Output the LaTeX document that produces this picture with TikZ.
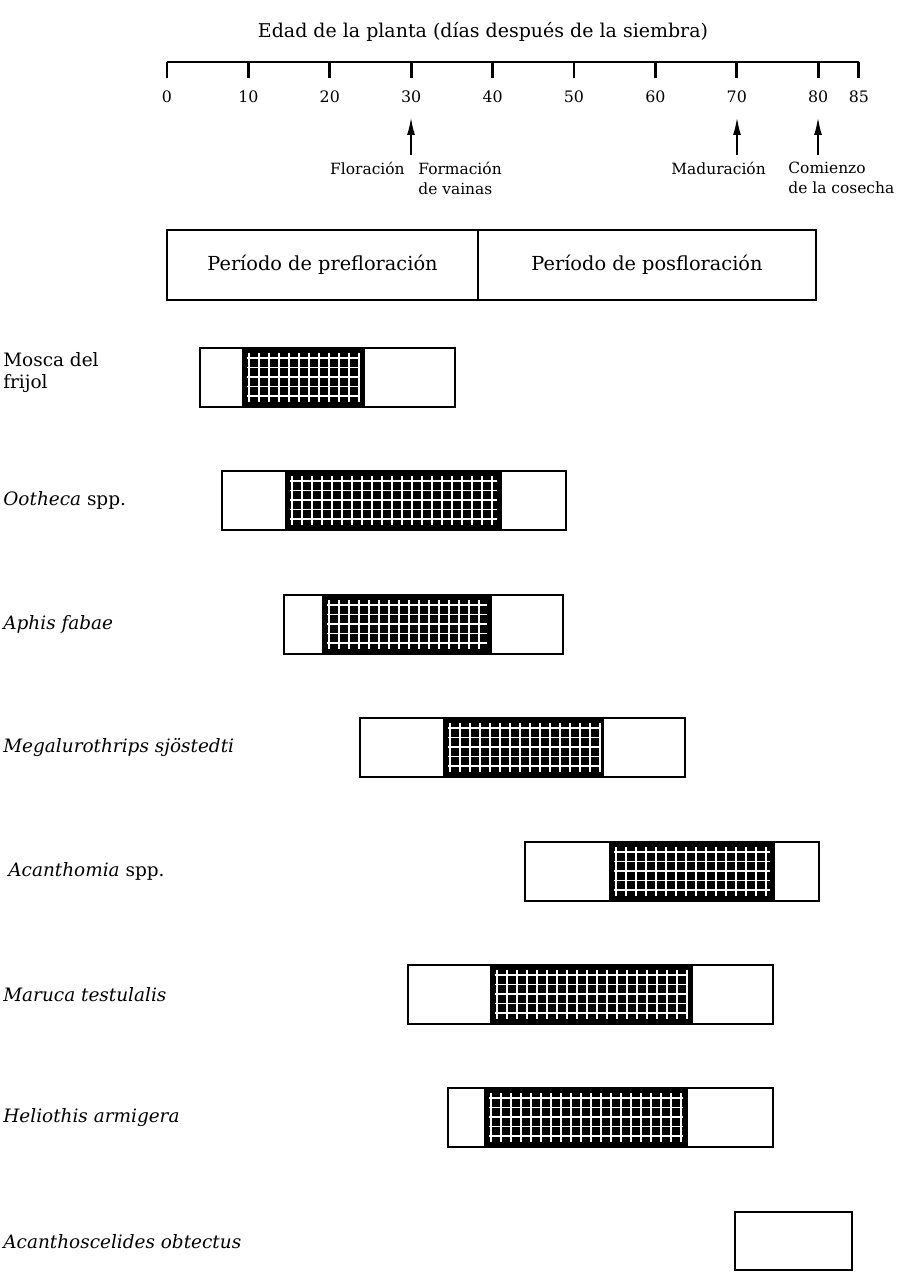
\documentclass[tikz,border=0pt]{standalone}
\usepackage{fontspec}
\setmainfont{DejaVu Serif}
\usetikzlibrary{arrows.meta}

\newcommand{\barra}[5]{%
  \fill[black] (#2,#5) rectangle (#3,#5-1.18);
  \pgfmathtruncatemacro{\nv}{(#3-#2-0.22)/0.2}
  \foreach \i in {0,...,\nv}
    \draw[rejilla] ({#2+0.14+0.2*\i},#5-0.10) -- ++(0,-0.98);
  \foreach \k in {1,...,5}
    \draw[rejilla] (#2+0.10,#5-0.01-0.19*\k) -- (#3-0.10,#5-0.01-0.19*\k);
  \draw[caja] (#1,#5) rectangle (#4,#5-1.18);
}

\begin{document}
\begin{tikzpicture}[
  caja/.style={draw=black, line width=1.4pt},
  rejilla/.style={draw=white, line width=0.7pt},
  eje/.style={draw=black, line width=1.6pt},
  flecha/.style={draw=black, line width=1.2pt, -{Latex[length=0.36cm, width=0.16cm]}},
  periodo/.style={draw=black, line width=1.4pt, outer sep=0pt, inner sep=0pt, font=\fontsize{11}{13}\selectfont},
  evento/.style={inner sep=0pt, align=left, font=\fontsize{8.8}{11}\selectfont},
  especie/.style={anchor=west, inner sep=0pt, align=left, font=\fontsize{10.5}{13}\selectfont}
]
  \useasboundingbox (0,0) rectangle (18.34,-25.44);

	\node[font=\fontsize{10.8}{13}\selectfont] (titulo) at (9.66,-0.64) {Edad de la planta (días después de la siembra)};
	\draw[eje] (3.34,-1.24) -- (17.18,-1.24);
	\foreach \d in {0,10,...,80,85} {
	  \draw[eje] (3.34+0.1628*\d,-1.24) -- ++(0,-0.32) coordinate (m\d);
	  \node[anchor=north, inner sep=0pt, font=\fontsize{9}{11}\selectfont] (n\d) at (3.34+0.1628*\d,-1.80) {\d};
	}

	\coordinate (p30) at (8.22,-2.34);
	\coordinate (c30) at (8.22,-3.10);
	\coordinate (p70) at (14.74,-2.34);
	\coordinate (c70) at (14.74,-3.10);
	\coordinate (p80) at (16.36,-2.34);
	\coordinate (c80) at (16.36,-3.10);
	\draw[flecha] (c30) -- (p30);
	\draw[flecha] (c70) -- (p70);
	\draw[flecha] (c80) -- (p80);

	\node[evento, anchor=north east] (floracion) at (8.10,-3.24) {Floración};
	\node[evento, anchor=north west] (vainas) at (8.36,-3.24) {Formación\\de vainas};
	\node[evento, anchor=north west] (maduracion) at (13.42,-3.24) {Maduración};
	\node[evento, anchor=north west] (cosecha) at (15.76,-3.24) {Comienzo\\de la cosecha};

	\node[periodo, anchor=north west, minimum width=6.22cm, minimum height=1.40cm] (pre) at (3.34,-4.60) {Período de prefloración};
	\node[periodo, anchor=north west, minimum width=6.76cm, minimum height=1.40cm] (pos) at (pre.north east) {Período de posfloración};

	\node[especie] (mosca) at (0.06,-7.45) {Mosca del\\frijol};
	\node[especie] (ootheca) at (0.06,-10.01) {\textit{Ootheca} spp.};
	\node[especie] (aphis) at (0.06,-12.49) {\textit{Aphis fabae}};
	\node[especie] (megalurothrips) at (0.06,-14.95) {\textit{Megalurothrips sjöstedti}};
	\node[especie] (acanthomia) at (0.16,-17.43) {\textit{Acanthomia} spp.};
	\node[especie] (maruca) at (0.06,-19.89) {\textit{Maruca testulalis}};
	\node[especie] (heliothis) at (0.06,-22.35) {\textit{Heliothis armigera}};
	\node[especie] (acanthoscelides) at (0.06,-24.83) {\textit{Acanthoscelides obtectus}};

	\barra{4.00}{4.84}{7.30}{9.10}{-6.96}
	\barra{4.44}{5.70}{10.04}{11.32}{-9.42}
	\barra{5.68}{6.44}{9.84}{11.26}{-11.90}
	\barra{7.20}{8.86}{12.08}{13.70}{-14.36}
	\barra{10.50}{12.18}{15.50}{16.38}{-16.84}
	\barra{8.16}{9.80}{13.86}{15.46}{-19.30}
	\barra{8.96}{9.68}{13.76}{15.46}{-21.76}
	\draw[caja] (14.70,-24.24) rectangle (17.04,-25.40);
\end{tikzpicture}
\end{document}
